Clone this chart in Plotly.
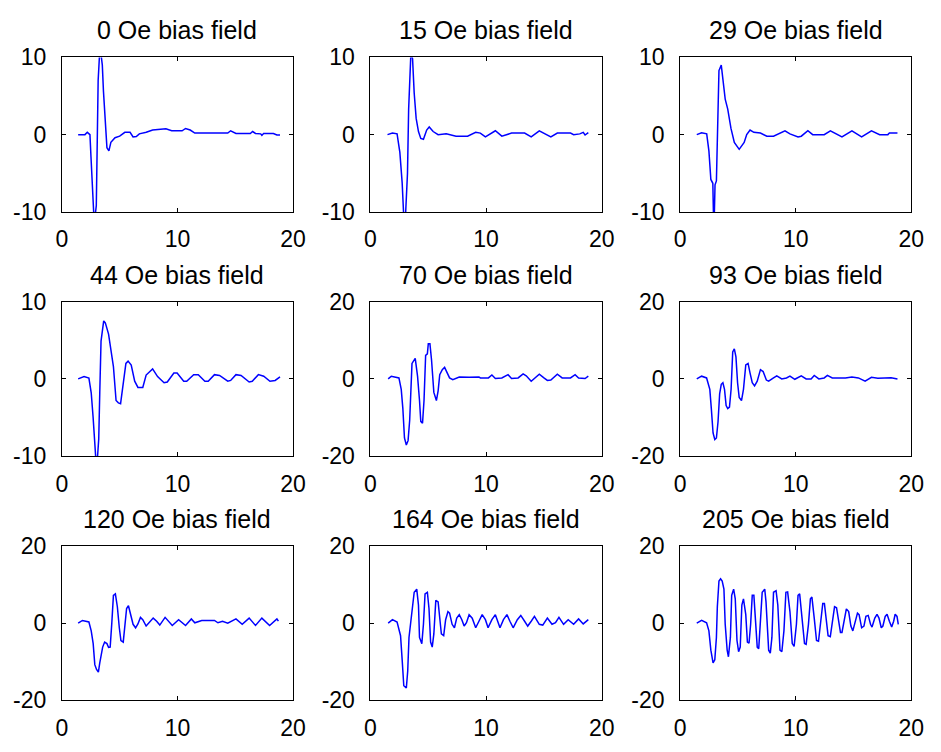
import plotly.graph_objects as go

# ---------------- data ----------------
titles = ["0 Oe bias field", "15 Oe bias field", "29 Oe bias field",
          "44 Oe bias field", "70 Oe bias field", "93 Oe bias field",
          "120 Oe bias field", "164 Oe bias field", "205 Oe bias field"]

x_ticks = [0, 10, 20]
x_tick_labels = ["0", "10", "20"]
y_limits = [10, 10, 10, 10, 20, 20, 20, 20, 20]
y_ticks_10 = [-10, 0, 10]
y_tick_labels_10 = ["-10", "0", "10"]
y_ticks_20 = [-20, 0, 20]
y_tick_labels_20 = ["-20", "0", "20"]

t_0 = [1.41, 2.0, 2.2, 2.43, 2.52, 2.63, 2.8, 2.98, 3.05, 3.14, 3.3, 3.5, 3.6, 3.76, 3.9, 4.07,
       4.24, 4.6, 5.0, 5.45, 5.9, 6.16, 6.44, 6.7, 7.3, 7.85, 9.0, 9.5, 10.4, 10.7, 11.1, 11.5,
       14.35, 14.6, 15.06, 16.3, 16.5, 16.75, 17.2, 17.3, 17.45, 18.3, 18.6, 18.87]
v_0 = [0.0, 0.0, 0.3, 0.0, -2.9, -7.5, -11.5, -9.2, -1.7, 7.0, 11.5, 9.0, 5.6, 1.25, -1.7, -2.1,
       -1.0, -0.4, -0.2, 0.3, 0.3, -0.3, -0.25, 0.1, 0.3, 0.6, 0.75, 0.5, 0.5, 0.8, 0.6, 0.2,
       0.2, 0.5, 0.15, 0.15, 0.4, 0.15, 0.1, -0.1, 0.15, 0.15, -0.05, -0.05]

t_15 = [1.47, 1.9, 2.3, 2.54, 2.74, 2.95, 3.2, 3.3, 3.5, 3.64, 3.78, 3.95, 4.15, 4.35, 4.58,
        4.86, 5.08, 5.42, 5.85, 6.55, 7.4, 8.4, 9.1, 9.5, 9.94, 10.37, 10.8, 11.36, 12.2, 13.33,
        13.9, 14.6, 15.45, 15.6, 16.16, 17.3, 17.57, 18.1, 18.4, 18.56, 18.84]
v_15 = [0.0, 0.2, 0.1, -2.3, -6.25, -13.0, -5.0, 3.3, 10.8, 9.8, 5.4, 2.1, 0.4, -0.5, -0.6,
        0.6, 1.0, 0.4, 0.0, 0.1, -0.2, -0.2, 0.3, 0.2, -0.3, 0.1, 0.5, -0.2, 0.2, 0.2,
        -0.3, 0.5, -0.2, -0.3, 0.2, 0.2, 0.0, 0.1, 0.3, -0.05, 0.25]

t_29 = [1.44, 1.86, 2.3, 2.49, 2.66, 2.83, 2.92, 3.02, 3.14, 3.28, 3.36, 3.56, 3.7, 3.9, 4.12,
        4.4, 4.69, 5.11, 5.54, 5.76, 6.05, 6.38, 6.95, 7.5, 8.08, 8.5, 9.07, 9.5, 10.2, 10.48,
        11.05, 11.47, 12.46, 13.0, 13.45, 14.0, 14.86, 15.14, 15.7, 16.55, 17.26, 17.97, 18.1, 18.8]
v_29 = [0.0, 0.25, 0.1, -2.1, -5.8, -6.3, -13.0, -6.5, -6.0, 1.5, 8.3, 9.0, 7.1, 4.6, 3.3,
        0.8, -1.0, -1.9, -1.0, 0.0, 0.6, 0.3, 0.2, -0.2, -0.2, 0.1, 0.5, 0.1, -0.3, -0.2,
        0.5, 0.0, 0.0, 0.5, 0.1, -0.3, 0.5, 0.2, -0.3, 0.5, 0.0, 0.0, 0.2, 0.2]

t_44 = [1.41, 1.92, 2.34, 2.54, 2.7, 2.82, 2.94, 3.08, 3.19, 3.28, 3.39, 3.62, 3.76, 4.04, 4.24,
        4.46, 4.69, 4.89, 5.08, 5.31, 5.54, 5.73, 6.0, 6.3, 6.58, 7.0, 7.29, 7.85, 8.28, 8.84,
        9.12, 9.69, 9.97, 10.54, 10.8, 11.4, 11.8, 12.37, 12.66, 13.2, 13.64, 14.35, 14.6, 15.06,
        15.5, 16.2, 16.47, 17.0, 17.46, 18.0, 18.45, 18.87]
v_44 = [0.0, 0.3, 0.1, -1.8, -4.9, -8.0, -10.4, -10.2, -7.8, -1.8, 4.9, 7.5, 7.25, 5.8, 3.7,
        1.6, -2.8, -3.1, -3.2, -0.5, 2.0, 2.3, 1.8, -0.3, -1.1, -1.1, 0.5, 1.3, 0.3, -0.5,
        -0.4, 0.75, 0.75, -0.3, -0.3, 0.55, 0.55, -0.3, -0.3, 0.55, 0.45, -0.3, -0.2, 0.55,
        0.45, -0.4, -0.3, 0.55, 0.35, -0.3, -0.2, 0.25]

t_70 = [1.53, 1.8, 2.46, 2.66, 2.8, 2.94, 3.1, 3.25, 3.39, 3.5, 3.59, 3.87, 4.07, 4.24, 4.35,
        4.5, 4.63, 4.77, 4.92, 5.0, 5.14, 5.28, 5.48, 5.7, 5.85, 5.99, 6.21, 6.41, 6.61, 6.84,
        7.12, 7.68, 8.53, 9.38, 9.5, 10.2, 10.5, 10.8, 11.36, 11.9, 12.2, 12.77, 13.2, 13.47,
        13.9, 14.6, 15.0, 15.3, 15.6, 16.16, 16.58, 17.3, 17.7, 18.0, 18.56, 18.84]
v_70 = [0.0, 0.7, 0.25, -2.7, -7.7, -15.3, -17.1, -16.0, -10.7, 0.0, 4.0, 5.3, 0.7, -5.6, -11.0,
        -11.5, -5.6, 6.1, 6.5, 9.1, 9.1, 4.9, -3.5, -5.6, -3.1, 1.1, 2.4, 3.0, 1.7, 0.25,
        -0.2, 0.5, 0.45, 0.5, 0.25, 0.25, 1.0, 0.1, 0.25, 1.1, 0.1, 0.25, 1.3, 0.8,
        -0.6, 1.2, 0.25, -0.4, -0.3, 1.2, 0.25, 0.25, 1.1, 0.25, 0.1, 0.7]

t_93 = [1.44, 1.86, 2.29, 2.57, 2.7, 2.85, 3.0, 3.14, 3.28, 3.42, 3.56, 3.7, 3.84, 3.98, 4.12,
        4.27, 4.41, 4.55, 4.69, 4.83, 4.97, 5.11, 5.31, 5.48, 5.68, 5.88, 6.05, 6.24, 6.44, 6.67,
        6.95, 7.18, 7.46, 7.66, 8.08, 8.36, 8.79, 9.2, 9.5, 9.92, 10.48, 10.9, 11.33, 11.6, 12.0,
        12.46, 12.74, 13.16, 14.3, 14.86, 15.42, 16.0, 16.55, 17.1, 17.7, 18.25, 18.8]
v_93 = [0.0, 0.7, 0.25, -2.7, -7.7, -14.0, -15.7, -15.3, -11.1, -3.9, -1.4, -1.0, -2.7, -6.9, -7.7,
        -7.3, -2.7, 7.0, 7.8, 5.7, -1.0, -4.8, -5.6, -2.7, 3.6, 4.0, 1.5, -1.0, -1.8, -0.6,
        2.4, 1.9, -0.3, -0.6, 0.25, 0.8, 0.0, 0.25, 0.7, -0.1, 0.8, 0.0, 0.0, 0.9, 0.0,
        0.25, 0.9, 0.25, 0.25, 0.5, 0.25, -0.6, 0.4, 0.15, 0.25, 0.3, 0.0]

t_120 = [1.41, 1.78, 2.34, 2.54, 2.71, 2.85, 3.0, 3.16, 3.28, 3.39, 3.53, 3.7, 3.9, 4.04, 4.18,
         4.32, 4.46, 4.63, 4.8, 4.97, 5.11, 5.31, 5.45, 5.6, 5.76, 5.93, 6.16, 6.38, 6.58, 6.8,
         7.0, 7.29, 7.57, 7.9, 8.2, 8.47, 8.93, 9.2, 9.55, 10.1, 10.7, 11.2, 11.5, 12.1, 13.2,
         13.5, 13.9, 14.35, 15.06, 15.6, 16.2, 16.75, 17.3, 17.97, 18.6, 18.73]
v_120 = [0.0, 0.7, 0.3, -2.0, -5.3, -10.75, -12.0, -12.7, -10.3, -8.25, -6.2, -4.9, -5.3, -6.3, -6.2,
         0.0, 7.2, 7.6, 4.25, -1.2, -4.5, -4.9, -1.2, 3.8, 4.5, 2.6, -0.3, -1.2, -0.2, 1.5,
         0.9, -0.75, 0.1, 1.3, 0.5, -0.5, 1.5, 0.7, -0.6, 0.9, -0.6, 1.1, 0.1, 0.7, 0.7,
         0.1, 0.5, 0.0, 1.1, -0.3, 1.3, -0.6, 1.3, -0.6, 1.1, 0.5]

t_164 = [1.53, 1.9, 2.3, 2.6, 2.74, 2.88, 3.1, 3.22, 3.33, 3.5, 3.64, 3.78, 4.0, 4.15, 4.24,
         4.44, 4.58, 4.72, 4.92, 5.06, 5.2, 5.34, 5.48, 5.65, 5.85, 5.99, 6.13, 6.33, 6.5, 6.7,
         6.84, 7.06, 7.26, 7.46, 7.68, 7.9, 8.1, 8.3, 8.53, 8.8, 9.1, 9.38, 9.66, 9.94, 10.17,
         10.5, 10.8, 11.0, 11.2, 11.5, 11.8, 12.06, 12.34, 12.7, 13.0, 13.33, 13.6, 13.9, 14.18,
         14.6, 14.9, 15.3, 15.7, 16.0, 16.3, 16.7, 17.1, 17.57, 18.0, 18.4, 18.7, 18.84]
v_164 = [0.0, 0.9, 0.3, -3.25, -9.5, -16.2, -16.8, -12.4, -3.7, 0.9, 5.5, 8.0, 8.8, 4.7, -3.7,
         -5.3, -0.3, 7.6, 8.0, 3.8, -4.9, -6.2, -2.8, 5.9, 5.5, 0.9, -2.8, -3.25, 0.9, 3.0,
         2.6, -0.3, -1.2, 1.3, 2.2, 0.9, -0.75, 0.1, 2.2, 1.3, -1.2, 0.5, 2.2, 0.9, -1.2,
         0.9, 2.2, 0.5, -1.2, 0.9, 2.2, 0.5, -1.2, 0.9, 2.0, 0.5, -0.75, 0.5, 1.75,
         -0.3, -0.5, 1.3, -0.3, 0.1, 1.5, -0.3, 0.9, -0.3, 1.1, -0.2, 0.7, 0.9]

t_205 = [1.44, 1.86, 2.29, 2.49, 2.66, 2.85, 3.0, 3.14, 3.22, 3.36, 3.5, 3.64, 3.79, 3.9, 4.07,
         4.18, 4.35, 4.46, 4.63, 4.77, 4.92, 5.06, 5.2, 5.34, 5.48, 5.68, 5.82, 5.96, 6.1, 6.24,
         6.38, 6.53, 6.67, 6.8, 6.95, 7.1, 7.32, 7.43, 7.66, 7.8, 7.94, 8.08, 8.3, 8.45, 8.64,
         8.8, 8.98, 9.15, 9.3, 9.5, 9.7, 9.86, 10.06, 10.2, 10.34, 10.54, 10.76, 10.9, 11.1,
         11.27, 11.4, 11.6, 11.8, 11.97, 12.17, 12.34, 12.48, 12.66, 12.8, 12.99, 13.16, 13.36,
         13.53, 13.73, 13.87, 14.0, 14.2, 14.38, 14.58, 14.77, 14.94, 15.14, 15.34, 15.48, 15.7,
         15.9, 16.07, 16.27, 16.47, 16.6, 16.84, 17.03, 17.2, 17.4, 17.54, 17.74, 17.9, 18.1,
         18.3, 18.47, 18.6, 18.76, 18.87]
v_205 = [0.0, 0.7, 0.1, -2.0, -7.0, -10.3, -9.5, -3.7, 4.25, 10.9, 11.5, 10.9, 8.8, -0.3, -7.0,
         -8.7, -3.7, 7.2, 8.8, 6.3, -4.5, -7.4, -6.2, 4.7, 6.3, 2.2, -4.9, -5.2, -0.3, 7.2,
         7.2, 1.3, -6.2, -6.6, -0.3, 8.0, 8.8, 5.5, -7.0, -7.8, -3.7, 8.0, 8.4, 4.7, -7.0,
         -7.4, -2.0, 8.0, 8.1, 3.0, -5.3, -6.0, -0.3, 7.2, 7.6, 2.2, -5.3, -5.5, -0.3,
         6.3, 6.75, 1.3, -4.5, -4.7, 0.5, 5.1, 5.1, 0.5, -3.25, -3.5, 0.5, 4.25,
         4.0, -0.3, -2.4, -2.4, 1.3, 3.7, 3.0, -0.75, -2.0, 0.5, 2.6, 2.2, -1.2,
         -0.75, 1.75, 2.0, -0.3, -1.0, 1.3, 2.3, 1.3, -1.2, -0.75, 1.75, 2.3, 0.5,
         -1.0, 0.5, 2.3, 1.75, -0.3]

series_t = [t_0, t_15, t_29, t_44, t_70, t_93, t_120, t_164, t_205]
series_v = [v_0, v_15, v_29, v_44, v_70, v_93, v_120, v_164, v_205]

# ---------------- layout geometry (pixels) ----------------
W, H = 941, 752
col_left = [57, 372, 688]
plot_w = 236
row_top = [46, 299, 552]
plot_h = 160

FONT = "Liberation Sans, Arial, sans-serif"
TICK_SIZE = 23
TITLE_SIZE = 25

fig = go.Figure()
layout = dict(width=W, height=H, margin=dict(l=0, r=0, t=0, b=0),
              paper_bgcolor="white", plot_bgcolor="white", showlegend=False,
              font=dict(family=FONT, size=TICK_SIZE, color="black"))
annotations = []

for i in range(9):
    r, c = divmod(i, 3)
    n = "" if i == 0 else str(i + 1)
    x0 = col_left[c] / W
    x1 = (col_left[c] + plot_w) / W
    y1 = 1 - row_top[r] / H
    y0 = 1 - (row_top[r] + plot_h) / H
    lim = y_limits[i]
    if lim == 10:
        yt, ytl = y_ticks_10, y_tick_labels_10
    else:
        yt, ytl = y_ticks_20, y_tick_labels_20
    common = dict(showline=True, linecolor="black", linewidth=1, mirror="ticks",
                  ticks="inside", ticklen=4, tickcolor="black", tickwidth=1,
                  showgrid=False, zeroline=False,
                  tickfont=dict(family=FONT, size=TICK_SIZE, color="black"))
    layout["xaxis" + n] = dict(domain=[x0, x1], range=[0, 20], tickvals=x_ticks,
                               ticktext=x_tick_labels,
                               anchor="y" + n, ticklabelstandoff=7, **common)
    layout["yaxis" + n] = dict(domain=[y0, y1], range=[-lim, lim],
                               tickvals=yt, ticktext=ytl, anchor="x" + n,
                               ticklabelstandoff=10, **common)
    fig.add_trace(go.Scatter(x=series_t[i], y=series_v[i], mode="lines",
                             line=dict(color="#0000ff", width=1.5),
                             xaxis="x" + n, yaxis="y" + n, hoverinfo="skip"))
    annotations.append(dict(text=titles[i], xref="paper", yref="paper",
                            x=(x0 + x1) / 2, y=1 - (row_top[r] - 28) / H,
                            xanchor="center", yanchor="middle", showarrow=False,
                            font=dict(family=FONT, size=TITLE_SIZE, color="black")))

layout["annotations"] = annotations
fig.update_layout(**layout)
fig.write_html("out.html", config={"displayModeBar": False},
               post_script="document.body.style.margin='0';document.body.style.overflow='hidden';")
